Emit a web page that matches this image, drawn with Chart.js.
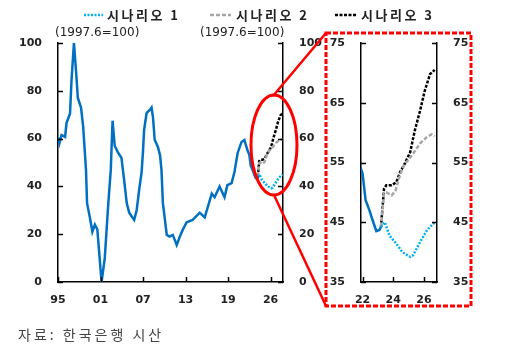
<!DOCTYPE html>
<html>
<head>
<meta charset="utf-8">
<script src="https://cdn.jsdelivr.net/npm/chart.js@4/dist/chart.umd.min.js"></script>
<style>
  body { margin: 0; width: 512px; height: 352px; background: #fff; position: relative; overflow: hidden; }
  .abs { position: absolute; }
  #mainWrap { left: 0; top: 0; width: 330px; height: 320px; }
  #insetWrap { left: 320px; top: 0; width: 170px; height: 320px; }
  .legend { top: 5px; font: bold 13px "Noto Sans CJK KR", sans-serif; letter-spacing: 2.5px; color: #222; white-space: nowrap; }
  .base { font: 12px "DejaVu Sans", sans-serif; color: #222; top: 25px; white-space: nowrap; }
  #note { left: 18px; top: 324px; font: 14px "Noto Sans CJK KR", sans-serif; letter-spacing: 3px; color: #444; }
  svg { position: absolute; left: 0; top: 0; }
</style>
</head>
<body>
<div id="mainWrap" class="abs"><canvas id="mainChart"></canvas></div>
<div id="insetWrap" class="abs"><canvas id="insetChart"></canvas></div>

<svg width="512" height="352">
  <line x1="84" y1="15" x2="103" y2="15" stroke="#00b0f0" stroke-width="2.5" stroke-dasharray="2 1.5"/>
  <line x1="210" y1="15" x2="231" y2="15" stroke="#a6a6a6" stroke-width="2.5" stroke-dasharray="4 2"/>
  <line x1="335" y1="15" x2="356" y2="15" stroke="#000" stroke-width="2.5" stroke-dasharray="3 1.5"/>
</svg>
<div class="abs legend" style="left:107px">시나리오 1</div>
<div class="abs legend" style="left:236px">시나리오 2</div>
<div class="abs legend" style="left:361px">시나리오 3</div>
<div class="abs base" style="left:55px">(1997.6=100)</div>
<div class="abs base" style="left:200px">(1997.6=100)</div>
<div id="note" class="abs">자료: 한국은행 시산</div>

<svg width="512" height="352" style="pointer-events:none">
  <ellipse cx="274" cy="145" rx="23" ry="50" fill="none" stroke="#ff0000" stroke-width="3"/>
  <line x1="273" y1="96" x2="326" y2="33" stroke="#ff0000" stroke-width="2.5"/>
  <line x1="274" y1="195" x2="326" y2="306" stroke="#ff0000" stroke-width="2.5"/>
  <rect x="326" y="33" width="145" height="273" fill="none" stroke="#ff0000" stroke-width="3" stroke-dasharray="5 2"/>
</svg>

<script>
// ---------- data ----------
const histYears = [1995.0, 1995.2, 1995.5, 1996.0, 1996.2, 1996.7, 1996.9, 1997.25, 1997.55, 1997.8,
  1998.25, 1998.55, 1998.95, 1999.1, 1999.5, 1999.85, 2000.2, 2000.55, 2001.15, 2001.6,
  2002.1, 2002.45, 2002.7, 2003.0, 2003.5, 2003.95, 2004.3, 2004.7, 2005.05, 2005.5,
  2005.75, 2006.1, 2006.45, 2006.8, 2007.0, 2007.15, 2007.5, 2007.95, 2008.2, 2008.4,
  2008.65, 2009.1, 2009.4, 2009.6, 2009.8, 2010.35, 2010.75, 2011.2, 2011.75, 2012.2,
  2012.6, 2013.15, 2014.0, 2015.0, 2015.7, 2016.1, 2016.7, 2017.1, 2017.8, 2018.5,
  2018.9, 2019.5, 2019.9, 2020.35, 2020.9, 2021.3, 2021.75, 2022.0, 2022.2, 2022.45,
  2022.7, 2022.9, 2023.1, 2023.2];
const histValues = [60.5, 58, 61.5, 60.7, 66.5, 70.5, 84, 100, 88, 77,
  73, 65, 47, 33, 27, 21, 24, 22, 0, 10,
  33, 47, 67.5, 57, 54, 52, 43.5, 33, 29, 27,
  26, 30, 38.5, 46, 55, 63.6, 70.7, 72, 73, 69,
  59.4, 56.5, 53, 47, 33, 19.7, 19, 19.7, 15.5, 19,
  21.8, 25, 26, 29, 27, 31, 37, 35.5, 40, 35.5,
  40.5, 41.4, 46, 54, 58.6, 59.4, 55, 53.2, 48.7, 47,
  45, 43.5, 43.7, 44.2];

const s1Years = [2023.2, 2023.45, 2023.75, 2024.2, 2024.6, 2025.1, 2025.3, 2025.75, 2026.2, 2026.7];
const s1Values = [44.2, 45, 42.8, 41.4, 40, 39.2, 39.5, 41.7, 43.7, 45];
const s2Years = [2023.2, 2023.4, 2023.55, 2023.9, 2024.15, 2024.45, 2024.75, 2024.95, 2025.3, 2025.75, 2026.2, 2026.5, 2026.7];
const s2Values = [44.2, 49.8, 50, 49.5, 50.3, 53, 54.8, 55.3, 56.5, 58.2, 59.3, 59.7, 59.4];
const s3Years = [2023.2, 2023.4, 2023.55, 2023.9, 2024.2, 2024.45, 2024.75, 2025.1, 2025.4, 2025.75, 2026.05, 2026.4, 2026.7];
const s3Values = [44.2, 50.6, 51.2, 51.2, 51.7, 53.4, 54.8, 56.7, 60.3, 63.7, 67, 69.8, 70.5];

const mainTickYears = [1995, 2001, 2007, 2013, 2019, 2025];
const mainTickLabels = ['95', '01', '07', '13', '19', '26'];
const insetTickYears = [2022, 2024, 2026];
const insetTickLabels = ['22', '24', '26'];

const toPts = (xs, ys) => xs.map((x, i) => ({ x, y: ys[i] }));

// ---------- inward tick marks ----------
const innerTicks = {
  id: 'innerTicks',
  afterDraw(chart) {
    const { ctx, chartArea: a } = chart;
    ctx.save();
    ctx.strokeStyle = '#000';
    ctx.lineWidth = 1.5;
    for (const s of Object.values(chart.scales)) {
      for (const t of s.ticks) {
        const p = Math.round(s.getPixelForValue(t.value)) + 0.5;
        ctx.beginPath();
        if (s.axis === 'x') { ctx.moveTo(p, a.bottom); ctx.lineTo(p, a.bottom - 5); }
        else if (s.position === 'left') { ctx.moveTo(a.left, p); ctx.lineTo(a.left + 5, p); }
        else { ctx.moveTo(a.right, p); ctx.lineTo(a.right - 5, p); }
        ctx.stroke();
      }
    }
    ctx.restore();
  }
};

const tickFont = { family: 'DejaVu Sans', size: 11, weight: 'bold' };

function datasets() {
  return [
    { data: toPts(histYears, histValues), borderColor: '#0070c0', borderWidth: 2.5 },
    { data: toPts(s1Years, s1Values), borderColor: '#00b0f0', borderWidth: 2.5, borderDash: [2, 1.5] },
    { data: toPts(s2Years, s2Values), borderColor: '#a6a6a6', borderWidth: 2.5, borderDash: [4, 2] },
    { data: toPts(s3Years, s3Values), borderColor: '#000000', borderWidth: 2.5, borderDash: [3, 1.5] }
  ].map(d => Object.assign(d, { pointRadius: 0, tension: 0, fill: false }));
}

function yAxis(pos, min, max, step, width) {
  return {
    type: 'linear', position: pos, min, max,
    grid: { display: false, drawTicks: false },
    border: { display: true, color: '#000', width: 1.5 },
    ticks: { stepSize: step, padding: 16, color: '#222', font: tickFont },
    afterFit: s => { s.width = width; }
  };
}

function makeChart(id, cfg) {
  return new Chart(document.getElementById(id), {
    type: 'line',
    data: { datasets: datasets() },
    options: {
      responsive: true,
      maintainAspectRatio: false,
      animation: false,
      layout: { padding: { top: 43, left: 0, right: 0, bottom: 0 } },
      plugins: { legend: { display: false }, tooltip: { enabled: false } },
      scales: {
        x: {
          type: 'linear', min: cfg.xMin, max: cfg.xMax,
          grid: { display: false, drawTicks: false },
          border: { display: true, color: '#000', width: 1.5 },
          afterBuildTicks: s => { s.ticks = cfg.tickYears.map(v => ({ value: v })); },
          ticks: {
            padding: 12, color: '#222', font: tickFont, maxRotation: 0,
            callback: v => cfg.tickLabels[cfg.tickYears.indexOf(v)]
          },
          afterFit: s => { s.height = cfg.xHeight; }
        },
        y: yAxis('left', cfg.yMin, cfg.yMax, cfg.step, cfg.leftW),
        y2: yAxis('right', cfg.yMin, cfg.yMax, cfg.step, cfg.rightW)
      }
    },
    plugins: [innerTicks]
  });
}

makeChart('mainChart', {
  xMin: 1995, xMax: 2026.75, tickYears: mainTickYears, tickLabels: mainTickLabels,
  yMin: 0, yMax: 100, step: 20, leftW: 58, rightW: 47, xHeight: 38
});
makeChart('insetChart', {
  xMin: 2021.9, xMax: 2026.85, tickYears: insetTickYears, tickLabels: insetTickLabels,
  yMin: 35, yMax: 75, step: 10, leftW: 41, rightW: 53, xHeight: 38
});
</script>
</body>
</html>
